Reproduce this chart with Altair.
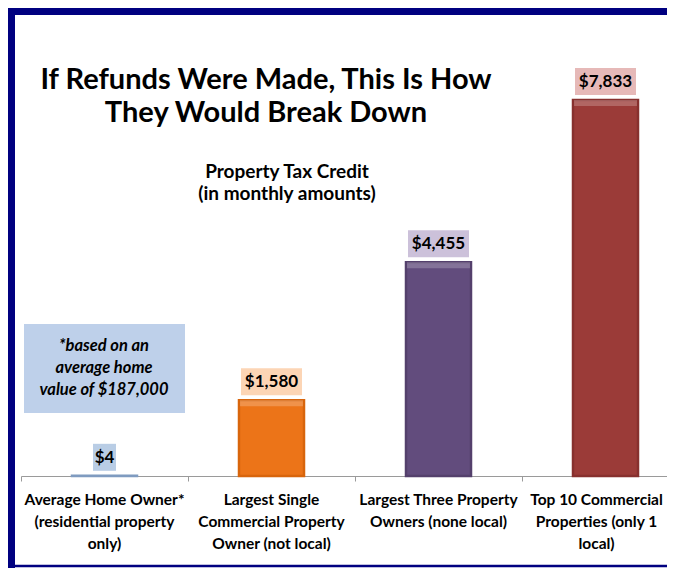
import altair as alt
import pandas as pd

# ---- data ----
categories = [
    "Average Home Owner*|(residential property|only)",
    "Largest Single|Commercial Property|Owner (not local)",
    "Largest Three Property|Owners (none local)",
    "Top 10 Commercial|Properties (only 1|local)",
]
values = [4, 1580, 4455, 7833]
title_lines = ["If Refunds Were Made, This Is How", "They Would Break Down"]
subtitle_lines = ["Property Tax Credit", "(in monthly amounts)"]
note_lines = ["*based on an", "average home", "value of $187,000"]

# ---- styles ----
bar_colors = ["#8EA8C9", "#EC7418", "#624C7D", "#9B3B38"]
edge_colors = ["#7F9BC0", "#D8650C", "#54406C", "#87302E"]
box_colors = ["#B9CDE5", "#FCD5B5", "#CCC1DA", "#E6B9B8"]
navy = "#000080"
FONT = "Lato"

df = pd.DataFrame({"cat": categories, "value": values})

W, H = 659, 468
x_scale = alt.Scale(domain=categories, range=[13, 681], paddingInner=0, paddingOuter=0)
y_scale = alt.Scale(domain=[0, 9750], nice=False)

base = alt.Chart(df)

bars = base.mark_bar(width=65, strokeWidth=2.5).encode(
    x=alt.X("cat:N", scale=x_scale, sort=categories, title=None,
            axis=alt.Axis(labels=False, tickBand="extent", tickSize=5,
                          tickColor="#9a9a9a", domainColor="#9a9a9a",
                          domainWidth=1.2, grid=False, title=None)),
    y=alt.Y("value:Q", scale=y_scale, axis=None),
    color=alt.Color("cat:N", scale=alt.Scale(domain=categories, range=bar_colors), legend=None),
    stroke=alt.Stroke("cat:N", scale=alt.Scale(domain=categories, range=edge_colors), legend=None),
)

# light bevel along the top of each tall bar
bevel = base.transform_filter(alt.datum.value > 100).mark_bar(
    width=63, y2Offset=6, color="white", opacity=0.22
).encode(
    x=alt.X("cat:N", scale=x_scale, sort=categories),
    y=alt.Y("value:Q", scale=y_scale, axis=None),
    y2="value:Q",
)

# category labels under the axis (last one nudged left so it stays inside the frame)
def cat_labels(test, dx):
    return base.transform_filter(test).mark_text(
        font=FONT, fontSize=15.5, fontWeight="bold", color="black",
        align="center", baseline="top", lineBreak="|", lineHeight=22, dx=dx,
    ).encode(
        x=alt.X("cat:N", scale=x_scale, sort=categories),
        y=alt.value(485),
        text="cat:N",
    )

labels_main = cat_labels(alt.datum.cat != categories[-1], 0)
labels_last = cat_labels(alt.datum.cat == categories[-1], -9)

boxes = base.transform_calculate(
    label="'$' + format(datum.value, ',')",
    bw="length(datum.label) * 9.5 + 4",
).mark_bar(yOffset=-5, y2Offset=-32).encode(
    x=alt.X("cat:N", scale=x_scale, sort=categories),
    y=alt.Y("value:Q", scale=y_scale, axis=None),
    y2="value:Q",
    size=alt.Size("bw:Q", scale=None, legend=None),
    color=alt.Color("cat:N", scale=alt.Scale(domain=categories, range=box_colors), legend=None),
)

labels = base.transform_calculate(
    label="'$' + format(datum.value, ',')"
).mark_text(font=FONT, fontSize=17, fontWeight="bold", color="black",
            baseline="middle", dy=-18).encode(
    x=alt.X("cat:N", scale=x_scale, sort=categories),
    y=alt.Y("value:Q", scale=y_scale, axis=None),
    text="label:N",
)

one = alt.Data(values=[{"k": 1}])

title = alt.Chart(one).mark_text(
    text=title_lines, font=FONT, fontSize=29, fontWeight="bold", color="black",
    align="center", baseline="alphabetic", lineHeight=33,
).encode(x=alt.value(258), y=alt.value(81))

subtitle = alt.Chart(one).mark_text(
    text=subtitle_lines, font=FONT, fontSize=19, fontWeight="bold", color="black",
    align="center", baseline="alphabetic", lineHeight=22,
).encode(x=alt.value(279), y=alt.value(170))

note_box = alt.Chart(one).mark_rect(color="#BED0EA").encode(
    x=alt.value(16), x2=alt.value(177), y=alt.value(316), y2=alt.value(405)
)
note = alt.Chart(one).mark_text(
    text=note_lines, font=FONT, fontSize=16.5, fontWeight="bold", fontStyle="italic",
    color="black", align="center", baseline="alphabetic", lineHeight=22,
).encode(x=alt.value(96), y=alt.value(343))

border_left = alt.Chart(one).mark_rule(color=navy, strokeWidth=7).encode(
    x=alt.value(3.5), y=alt.value(0), y2=alt.value(560))
border_top = alt.Chart(one).mark_rule(color=navy, strokeWidth=7).encode(
    y=alt.value(3.5), x=alt.value(0), x2=alt.value(W))
border_bottom = alt.Chart(one).mark_rule(color=navy, strokeWidth=2.5).encode(
    y=alt.value(558), x=alt.value(0), x2=alt.value(W))

chart = alt.layer(
    note_box, note, title, subtitle, bars, bevel, boxes, labels, labels_main, labels_last,
    border_left, border_top, border_bottom,
).resolve_scale(color="independent", stroke="independent").properties(
    width=W, height=H,
    autosize=alt.AutoSizeParams(type="none"),
    padding={"left": 0, "top": 0, "right": 0, "bottom": 92},
    background="white",
).configure_view(stroke=None)

chart.save("out.html", embed_options={"renderer": "svg", "actions": False})
